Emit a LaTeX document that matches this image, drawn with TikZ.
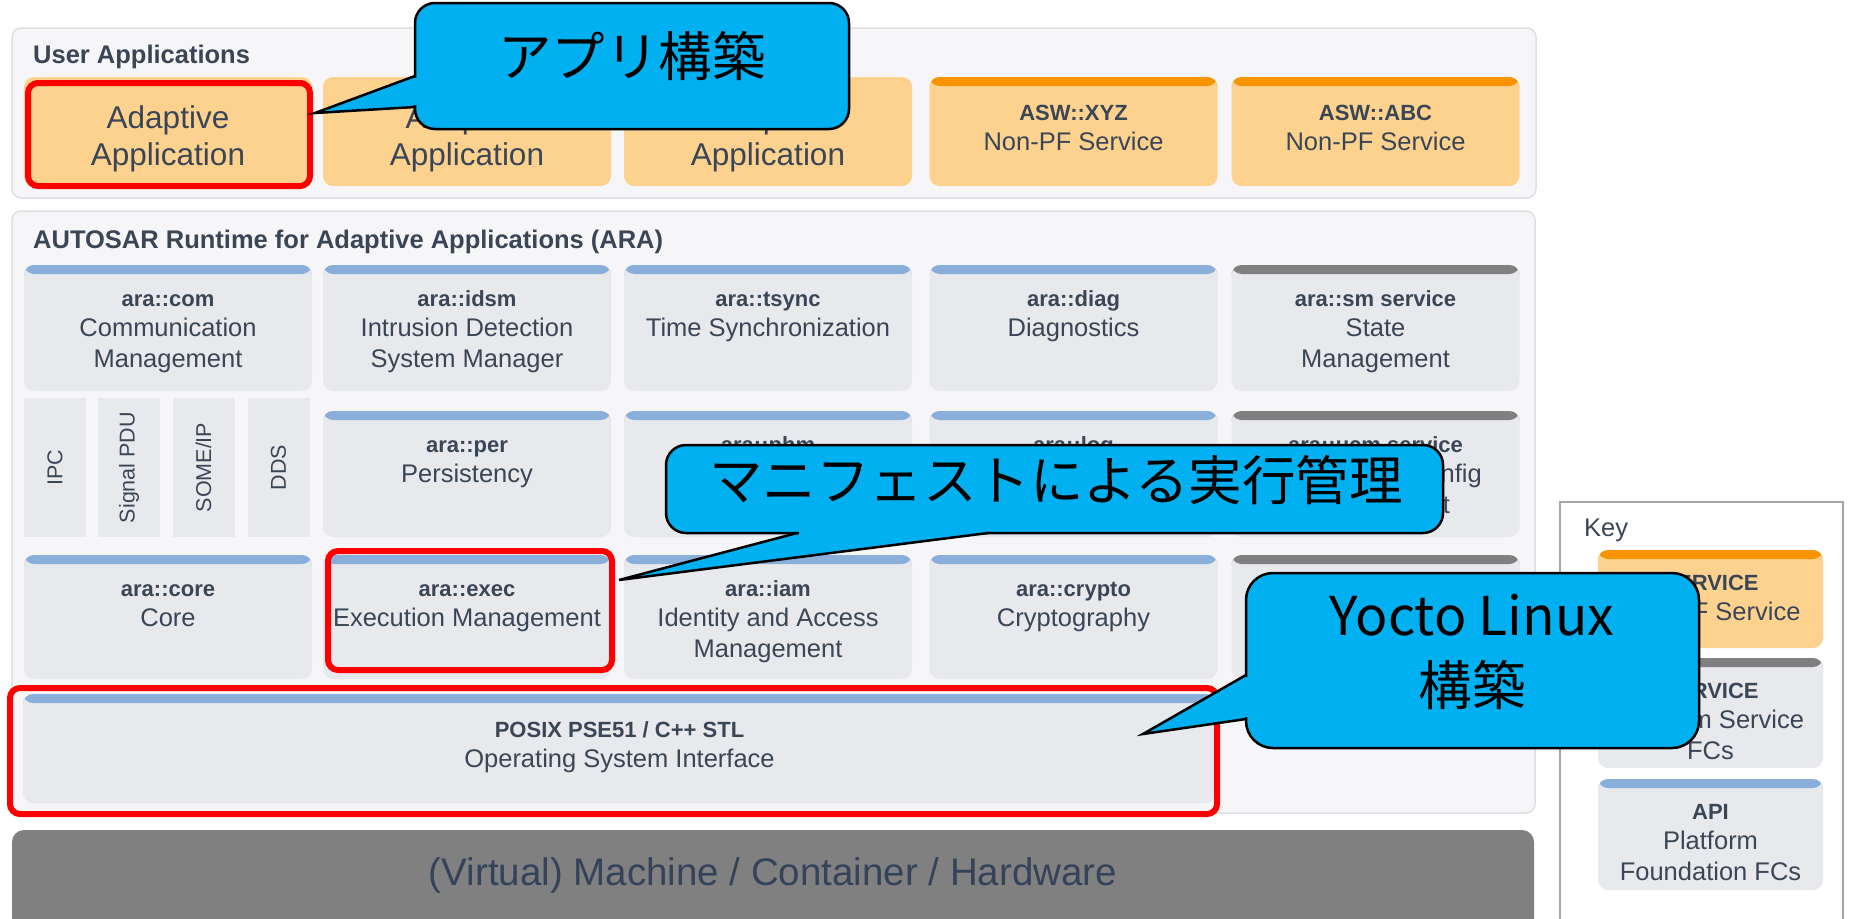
\documentclass[tikz,border=0pt]{standalone}
\usepackage{fontspec}
\setmainfont{Liberation Sans}
\newfontfamily\jpfont{Noto Sans CJK JP}
\usetikzlibrary{positioning}

\definecolor{ink}{HTML}{3A4656}
\definecolor{hwink}{HTML}{34435A}
\definecolor{panelfill}{HTML}{F6F6F8}
\definecolor{panelline}{HTML}{DEDFE3}
\definecolor{boxfill}{HTML}{E8E9ED}
\definecolor{barblue}{HTML}{8AAEDA}
\definecolor{bargrey}{HTML}{808080}
\definecolor{appfill}{HTML}{FDD28F}
\definecolor{barorange}{HTML}{F89400}
\definecolor{hwgrey}{HTML}{808080}
\definecolor{callfill}{HTML}{00B0F0}
\definecolor{keyline}{HTML}{A6A6A6}

\newcommand{\boxlines}[1]{\begin{tabular}[t]{@{}c@{}}#1\end{tabular}}
\newcommand{\fcname}[2]{\boxlines{{\bfseries\fontsize{22}{30.5}\selectfont #1}\\#2}}

\tikzset{
  panel/.style={draw=panelline, line width=1.5pt, fill=panelfill, rounded corners=9pt},
  paneltitle/.style={anchor=west, text=ink, font=\bfseries\fontsize{25.5}{30}\selectfont, inner sep=0pt},
  fcbox/.style={rectangle, rounded corners=10pt, fill=boxfill, inner sep=0pt, outer sep=0pt,
    minimum width=288pt, text=ink, font=\fontsize{25.5}{30.5}\selectfont},
  topbar/.style={path picture={\fill[#1] (path picture bounding box.north west)
    rectangle ([yshift=-9pt]path picture bounding box.north east);}},
  rowa/.style={minimum height=126pt, text height=41pt, text depth=85pt},
  rowc/.style={minimum height=124pt, text height=41pt, text depth=83pt},
  appbox/.style={fcbox, fill=appfill, minimum height=109pt},
  apptext/.style={font=\fontsize{31.5}{37}\selectfont, text height=51pt, text depth=58pt},
  svctext/.style={text height=43pt, text depth=66pt},
  narrow/.style={fill=boxfill, inner sep=0pt, minimum width=139pt, minimum height=62pt,
    rotate=90, text=ink, font=\fontsize{21.5}{25}\selectfont},
  keybox/.style={fcbox, minimum width=225pt, text height=40pt},
  hilite/.style={draw=red, line width=6pt, rounded corners=10pt, inner sep=0pt, outer sep=0pt},
  callbox/.style={draw=black, line width=2.5pt, fill=callfill, inner sep=0pt, outer sep=0pt},
  wedge/.style={draw=black, line width=2.5pt, line join=miter},
  calltext/.style={font=\jpfont\fontsize{53.5}{70}\selectfont, align=center}
}

\begin{document}
\begin{tikzpicture}[x=1pt, y=-1pt]
\useasboundingbox (0,0) rectangle (1849,918);

% user applications
\draw[panel] (12,28) rectangle (1536,198);
\node[paneltitle] (usertitle) at (33,57) {User Applications};
\node[appbox, apptext] (app1) at (168,131.5) {\boxlines{Adaptive\\Application}};
\node[appbox, apptext] (app2) at (467,131.5) {\boxlines{Adaptive\\Application}};
\node[appbox, apptext] (app3) at (768,131.5) {\boxlines{Adaptive\\Application}};
\node[appbox, svctext, topbar=barorange] (xyz) at (1073.5,131.5) {\fcname{ASW::XYZ}{Non-PF Service}};
\node[appbox, svctext, topbar=barorange] (abc) at (1375.5,131.5) {\fcname{ASW::ABC}{Non-PF Service}};

% ARA
\draw[panel] (12,211) rectangle (1535,813);
\node[paneltitle] (aratitle) at (33,242) {AUTOSAR Runtime for Adaptive Applications (ARA)};

\node[fcbox, rowa, topbar=barblue] (com) at (168,328) {\fcname{ara::com}{Communication\\Management}};
\node[fcbox, rowa, topbar=barblue] (idsm) at (467,328) {\fcname{ara::idsm}{Intrusion Detection\\System Manager}};
\node[fcbox, rowa, topbar=barblue] (tsync) at (768,328) {\fcname{ara::tsync}{Time Synchronization}};
\node[fcbox, rowa, topbar=barblue] (diag) at (1073.5,328) {\fcname{ara::diag}{Diagnostics}};
\node[fcbox, rowa, topbar=bargrey] (sm) at (1375.5,328) {\fcname{ara::sm service}{State\\Management}};

\node[narrow] (ipc) at (55,467.5) {IPC};
\node[narrow] (pdu) at (129,467.5) {Signal PDU};
\node[narrow] (someip) at (203.5,467.5) {SOME/IP};
\node[narrow] (dds) at (278.5,467.5) {DDS};
\node[fcbox, rowa, topbar=barblue] (per) at (467,474) {\fcname{ara::per}{Persistency}};
\node[fcbox, rowa, topbar=barblue] (phm) at (768,474) {\fcname{ara::phm}{Platform Health\\Management}};
\node[fcbox, rowa, topbar=barblue] (log) at (1073.5,474) {\fcname{ara::log}{Logging}};
\node[fcbox, rowa, topbar=bargrey] (ucm) at (1375.5,474) {\fcname{ara::ucm service}{Update and Config\\Management}};

\node[fcbox, rowc, topbar=barblue] (core) at (168,617) {\fcname{ara::core}{Core}};
\node[fcbox, rowc, topbar=barblue] (exec) at (467,617) {\fcname{ara::exec}{Execution Management}};
\node[fcbox, rowc, topbar=barblue] (iam) at (768,617) {\fcname{ara::iam}{Identity and Access\\Management}};
\node[fcbox, rowc, topbar=barblue] (crypto) at (1073.5,617) {\fcname{ara::crypto}{Cryptography}};
\node[fcbox, rowc, topbar=bargrey] (nm) at (1375.5,617) {\fcname{ara::nm service}{Network\\Management}};

\node[fcbox, topbar=barblue, minimum width=1193pt, minimum height=109pt, text height=43pt, text depth=66pt]
  (posix) at (619.5,748.5) {\fcname{POSIX PSE51 / C++ STL}{Operating System Interface}};

% machine
\fill[hwgrey, rounded corners=12pt] (12,830) rectangle (1534,960);
\node[text=hwink, font=\fontsize{38.5}{44}\selectfont] (hw) at (773,876) {(Virtual) Machine / Container / Hardware};

% key
\draw[keyline, line width=2.5pt, fill=white] (1560,502) rectangle (1843,960);
\node[anchor=west, text=ink, font=\fontsize{25.5}{30}\selectfont, inner sep=0pt] (keytitle) at (1584,530) {Key};
\node[keybox, fill=appfill, topbar=barorange, minimum height=98pt, text depth=58pt] (keysvc) at (1710.5,599) {\fcname{SERVICE}{Non-PF Service}};
\node[keybox, topbar=bargrey, minimum height=110pt, text depth=70pt] (keypf) at (1710.5,713) {\fcname{SERVICE}{Platform Service\\FCs}};
\node[keybox, topbar=barblue, minimum height=111pt, text depth=71pt] (keyapi) at (1710.5,834.5) {\fcname{API}{Platform\\Foundation FCs}};

% red marks
\node[hilite, minimum width=282pt, minimum height=103pt] (hlapp) at (169,134.5) {};
\node[hilite, minimum width=284pt, minimum height=119pt] (hlexec) at (470,610.5) {};
\node[hilite, minimum width=1207pt, minimum height=126pt] (hlposix) at (613.5,751) {};

% callouts
\coordinate (appb1) at (415,76);
\coordinate (appb2) at (415,107);
\coordinate (apptip) at (315,113);
\fill[callfill] (appb1) -- (apptip) -- (appb2) -- cycle;
\node[callbox, rounded corners=20pt, minimum width=434pt, minimum height=126pt] (appcall) at (632,66) {};
\fill[callfill] (413,78) rectangle (417,105);
\draw[wedge] (appb1) -- (apptip) -- (appb2);
\node[calltext] (apptxt) at (632,56) {アプリ構築};

\coordinate (mfb1) at (797,533);
\coordinate (mfb2) at (988,533);
\coordinate (mftip) at (619,580);
\fill[callfill] (mfb1) -- (mftip) -- (mfb2) -- cycle;
\node[callbox, rounded corners=20pt, minimum width=777pt, minimum height=88pt] (mfcall) at (1054.5,489) {};
\fill[callfill] (799,531) rectangle (986,535);
\draw[wedge] (mfb1) -- (mftip) -- (mfb2);
\node[calltext] (mftxt) at (1056,480) {マニフェストによる実行管理};

\coordinate (ytb1) at (1246,675);
\coordinate (ytb2) at (1246,719);
\coordinate (yttip) at (1143,734);
\fill[callfill] (ytb1) -- (yttip) -- (ytb2) -- cycle;
\node[callbox, rounded corners=27pt, minimum width=453pt, minimum height=175pt] (ytcall) at (1472.5,660.5) {};
\fill[callfill] (1244,677) rectangle (1248,717);
\draw[wedge] (ytb1) -- (yttip) -- (ytb2);
\node[calltext] (yttxt) at (1472,652) {Yocto Linux\\構築};
\end{tikzpicture}
\end{document}
